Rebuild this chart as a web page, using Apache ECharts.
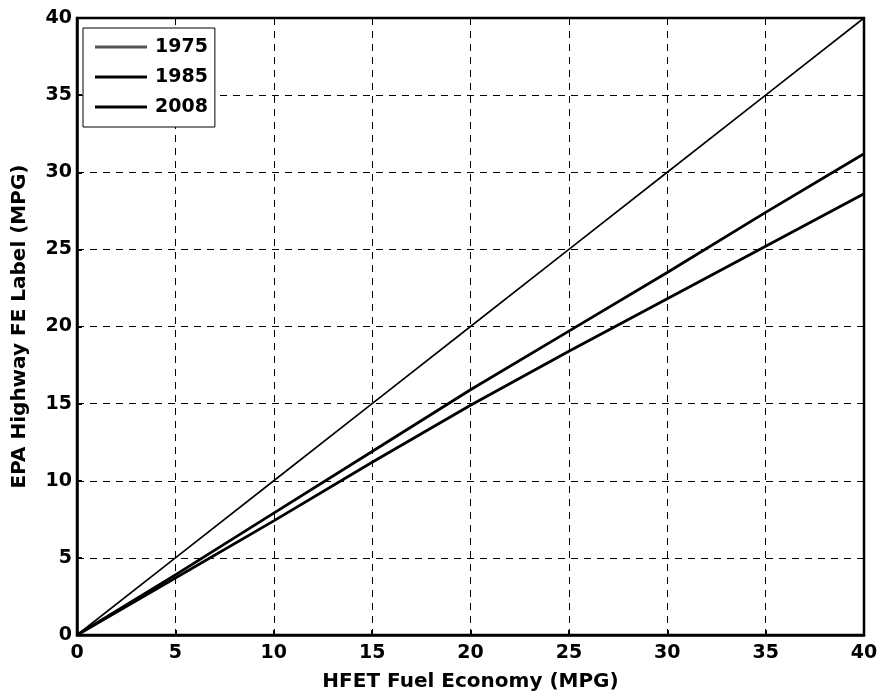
<!DOCTYPE html>
<html>
<head>
<meta charset="utf-8">
<script src="https://cdn.jsdelivr.net/npm/echarts@6/dist/echarts.min.js"></script>
<style>
  html, body { margin: 0; padding: 0; background: #fff; }
  #chart { width: 883px; height: 698px; }
</style>
</head>
<body>
<div id="chart"></div>
<script>
// HFET dyno fuel economy (MPG) vs. EPA highway label value under each method
const hfet = [0, 5, 10, 15, 20, 25, 30, 35, 40];
const label1975 = [0, 5, 10, 15, 20, 25, 30, 35, 40];
const label1985 = [0, 3.9, 7.9, 11.9, 15.9, 19.7, 23.5, 27.4, 31.2];
const label2008 = [0, 3.7, 7.4, 11.2, 14.9, 18.4, 21.8, 25.2, 28.6];
const seriesNames = ['1975', '1985', '2008'];
const axisTicks = [0, 5, 10, 15, 20, 25, 30, 35, 40];

const pairs = ys => hfet.map((x, i) => [x, ys[i]]);
const font = '"DejaVu Sans", Arial, sans-serif';

const axisCommon = {
  type: 'value',
  min: axisTicks[0],
  max: axisTicks[axisTicks.length - 1],
  interval: axisTicks[1] - axisTicks[0],
  nameLocation: 'middle',
  nameTextStyle: { color: '#000', fontFamily: font, fontWeight: 'bold', fontSize: 20 },
  axisLine: { show: true, lineStyle: { color: '#000', width: 2.5 } },
  axisTick: { show: true, inside: true, length: 5, lineStyle: { color: '#000', width: 2 } },
  axisLabel: { color: '#000', fontFamily: font, fontWeight: 'bold', fontSize: 19 },
  splitLine: { show: true, lineStyle: { color: '#000', width: 1, type: [7, 6] } }
};

const chart = echarts.init(document.getElementById('chart'));
chart.setOption({
  animation: false,
  backgroundColor: '#fff',
  grid: {
    left: 77, right: 19, top: 18, bottom: 63,
    show: true, borderColor: '#000', borderWidth: 2.5, backgroundColor: 'transparent'
  },
  xAxis: Object.assign({}, axisCommon, {
    name: 'HFET Fuel Economy (MPG)',
    nameGap: 37,
    axisLabel: Object.assign({}, axisCommon.axisLabel, { margin: 9 })
  }),
  yAxis: Object.assign({}, axisCommon, {
    name: 'EPA Highway FE Label (MPG)',
    nameGap: 47,
    axisLabel: Object.assign({}, axisCommon.axisLabel, { margin: 5 })
  }),
  legend: {
    data: seriesNames,
    orient: 'vertical',
    left: 83,
    top: 28,
    padding: [9, 7, 10, 12],
    itemGap: 10,
    itemWidth: 52,
    itemHeight: 3,
    icon: 'rect',
    backgroundColor: '#fff',
    borderColor: '#000',
    borderWidth: 1,
    textStyle: { color: '#000', fontFamily: font, fontWeight: 'bold', fontSize: 19,
      lineHeight: 20, padding: [0, 0, 0, 3] }
  },
  series: [
    { name: seriesNames[0], type: 'line', data: pairs(label1975), symbol: 'none',
      lineStyle: { color: '#000', width: 1.6 }, itemStyle: { color: '#555' } },
    { name: seriesNames[1], type: 'line', data: pairs(label1985), symbol: 'none',
      lineStyle: { color: '#000', width: 2.8 }, itemStyle: { color: '#000' } },
    { name: seriesNames[2], type: 'line', data: pairs(label2008), symbol: 'none',
      lineStyle: { color: '#000', width: 2.8 }, itemStyle: { color: '#000' } }
  ]
});
</script>
</body>
</html>
